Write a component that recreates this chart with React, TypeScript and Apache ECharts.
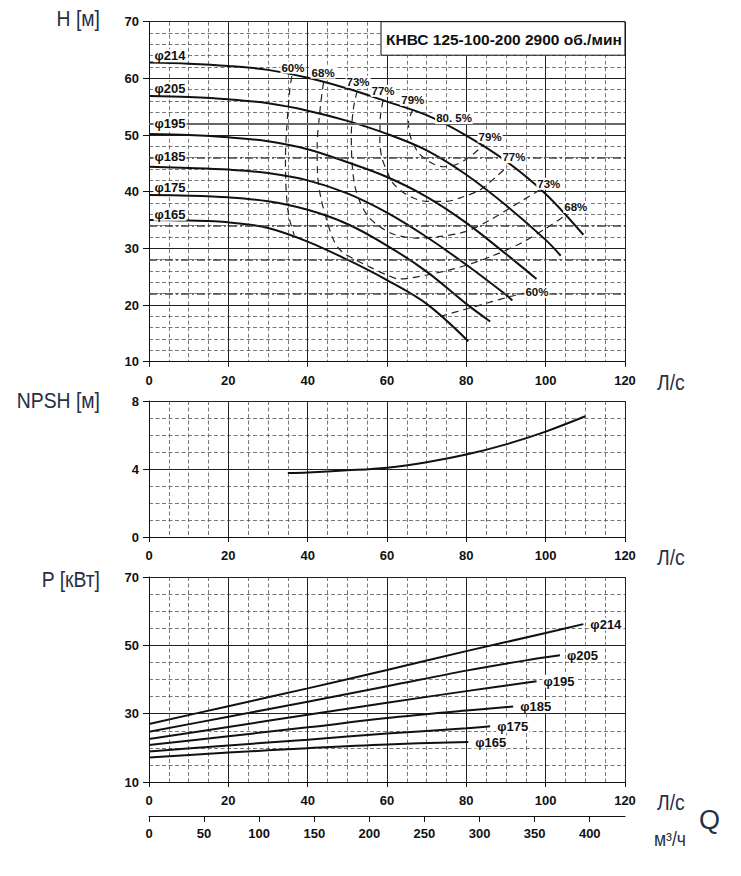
import React, { useEffect, useRef } from "react";
import * as echarts from "echarts";

// Напорные характеристики H(Q), Q в л/с, H в м
const head214 = [[0, 62.8], [10, 62.6], [20, 62.2], [30, 61.5], [40, 60.1], [50, 58.2], [60, 55.9], [70, 53.5], [80, 49.9], [90, 45.4], [100, 39.6], [109.5, 32.4]];
const head205 = [[0, 56.9], [10, 56.7], [20, 56.3], [30, 55.6], [40, 54.3], [50, 52.5], [60, 50.2], [70, 47.3], [80, 43.0], [90, 37.6], [100, 31.5], [103.8, 28.7]];
const head195 = [[0, 50.2], [10, 50.0], [20, 49.6], [30, 48.9], [40, 47.5], [50, 45.2], [60, 42.6], [70, 39.1], [80, 34.5], [90, 29.0], [97.7, 24.6]];
const head185 = [[0, 44.4], [10, 44.2], [20, 43.9], [30, 43.3], [40, 42.0], [50, 39.7], [60, 36.3], [70, 32.0], [80, 27.1], [90, 21.8], [91.6, 20.8]];
const head175 = [[0, 39.4], [10, 39.3], [20, 39.0], [30, 38.3], [40, 36.8], [50, 34.3], [60, 30.5], [70, 25.9], [80, 20.2], [86, 17.1]];
const head165 = [[0, 35.0], [10, 34.9], [20, 34.6], [30, 33.6], [40, 31.2], [50, 28.0], [60, 24.4], [70, 20.2], [80.5, 13.6]];

// линии равного КПД
const eff60a = [[36.0, 60.4], [35.5, 58], [34.8, 52], [34.4, 46], [34.6, 40], [35.3, 35.5], [36.6, 32.4]];
const eff60b = [[73.4, 18.0], [80, 19.3], [86, 20.5], [91, 21.5], [94.5, 22.1]];
const eff68 = [[44.0, 59.3], [43.2, 55], [42.4, 48], [42.5, 43], [43.3, 39], [44.8, 35], [46.5, 31.5], [48.5, 29.5], [52, 28.0], [56, 26.6], [60, 25.3], [63, 24.6], [70, 25.3], [78, 26.6], [86, 28.5], [94, 31], [100, 33.5], [104.5, 35.6]];
const eff73 = [[52.5, 57.8], [51.6, 55], [51.0, 50], [51.2, 45], [51.9, 41], [53.3, 38], [55.3, 35.6], [58.2, 33.8], [62, 32.4], [67.5, 31.8], [73.4, 32.1], [80, 33.0], [86, 35.0], [90, 36.7], [94.5, 38.6], [98.5, 40.3]];
const eff77 = [[59.0, 56.1], [58.3, 53], [58.2, 49], [58.7, 46], [59.9, 43.8], [61.4, 41.6], [64, 39.9], [67, 38.8], [70, 38.3], [75, 38.3], [79.2, 39.1], [83.4, 40.3], [87.6, 42.7], [90.5, 44.5]];
const eff79 = [[66.5, 54.5], [65.4, 52.1], [65.8, 50], [66.6, 48.5], [68, 46.8], [70, 45.6], [72, 44.8], [74.2, 44.4], [77, 44.7], [79.7, 45.6], [82, 46.8], [84.5, 48.3]];

const effLabels = [
  [36.3, 61.9, "60%"], [43.9, 61.0, "68%"], [52.7, 59.4, "73%"], [59.0, 57.8, "77%"],
  [66.5, 56.2, "79%"], [76.9, 53.0, "80. 5%"], [86.0, 49.7, "79%"], [92.0, 46.1, "77%"],
  [100.8, 41.4, "73%"], [107.6, 37.3, "68%"], [97.8, 22.3, "60%"],
];
const headLabels = [
  [5.3, 64.0, "φ214"], [5.3, 58.25, "φ205"], [5.3, 51.96, "φ195"],
  [5.3, 46.19, "φ185"], [5.3, 40.72, "φ175"], [5.3, 36.03, "φ165"],
];
const refLevels = [22, 28, 34, 46];

// NPSH, м
const npsh = [[35, 3.76], [40, 3.8], [50, 3.92], [60, 4.08], [70, 4.4], [80, 4.85], [90, 5.45], [100, 6.2], [110, 7.1]];

// Мощность P, кВт
const power214 = [[0, 27.0], [20, 32.2], [40, 37.4], [60, 42.8], [80, 48.3], [100, 53.6], [109.5, 56.2]];
const power205 = [[0, 24.7], [20, 29.1], [40, 33.5], [60, 38.0], [80, 42.6], [95, 45.6], [103.6, 47.1]];
const power195 = [[0, 22.6], [20, 26.1], [40, 29.7], [60, 33.2], [80, 36.6], [97.7, 39.5]];
const power185 = [[0, 20.8], [20, 23.4], [40, 26.0], [60, 28.7], [80, 30.9], [91.8, 32.1]];
const power175 = [[0, 18.9], [20, 20.7], [40, 22.4], [60, 24.2], [80, 25.7], [86, 26.3]];
const power165 = [[0, 17.2], [20, 18.6], [40, 19.9], [60, 21.0], [80.5, 21.7]];

const m3hTicks = [0, 50, 100, 150, 200, 250, 300, 350, 400];

const SANS = "'Liberation Sans', Arial, sans-serif";

const tickFont = { fontFamily: SANS, fontWeight: "bold" as const, fontSize: 13, color: "#111" };
const minorLine = { show: true, lineStyle: { color: "#555", width: 0.8, type: [4, 2.5] } };
const majorLine = { show: true, lineStyle: { color: "#222", width: 1 } };

function xAxisFor(gridIndex: number) {
  return {
    type: "value", gridIndex, min: 0, max: 120, interval: 20,
    axisLine: { show: true, onZero: false, lineStyle: { color: "#111" } },
    axisTick: { show: true, length: 5, lineStyle: { color: "#111" } },
    axisLabel: { ...tickFont, margin: 12 },
    splitLine: majorLine,
    minorTick: { show: false, splitNumber: 4 },
    minorSplitLine: minorLine,
  };
}

function yAxisFor(gridIndex: number, min: number, max: number, interval: number, split: number) {
  return {
    type: "value", gridIndex, min, max, interval,
    axisLine: { show: true, onZero: false, lineStyle: { color: "#111" } },
    axisTick: { show: true, length: 6, lineStyle: { color: "#111" } },
    axisLabel: { ...tickFont, margin: 10 },
    splitLine: majorLine,
    minorTick: { show: false, splitNumber: split },
    minorSplitLine: minorLine,
  };
}

function curve(data: number[][], axis: number, width = 2) {
  return {
    type: "line", data, xAxisIndex: axis, yAxisIndex: axis, smooth: 0.35,
    symbol: "none", silent: true, z: 4,
    lineStyle: { color: "#111", width },
  };
}

function effCurve(data: number[][]) {
  return {
    type: "line", data, xAxisIndex: 0, yAxisIndex: 0, smooth: 0.3,
    symbol: "none", silent: true, z: 3,
    lineStyle: { color: "#222", width: 1.2, type: [7, 5] },
  };
}

function powerCurve(data: number[][], name: string) {
  return {
    ...curve(data, 2),
    endLabel: {
      show: true, formatter: name, distance: 6,
      fontFamily: SANS, fontWeight: "bold", fontSize: 13, color: "#111",
      backgroundColor: "#fff", padding: [0, 1],
    },
  };
}

function textLabels(rows: (number | string)[][], size: number) {
  return {
    type: "scatter", xAxisIndex: 0, yAxisIndex: 0, silent: true, z: 6,
    symbolSize: 0, itemStyle: { color: "#111", opacity: 1 },
    data: rows.map(([q, h, t]) => ({ value: [q, h], name: t })),
    label: {
      show: true, position: "inside", formatter: "{b}",
      fontFamily: SANS, fontWeight: "bold", fontSize: size, color: "#111",
      textBorderWidth: 0, opacity: 1,
      backgroundColor: "#fff", padding: [0, 1],
    },
  };
}

const nameText = (text: string, x: number, y: number, align: string, size = 22, squeeze = 0.88) => ({
  type: "text", x, y, z: 100, scaleX: squeeze,
  style: { text, fill: "#263041", font: `${size}px ${SANS}`, align, verticalAlign: "middle" },
});

export default function App() {
  const chartRef = useRef<HTMLDivElement>(null);

  useEffect(() => {
    if (!chartRef.current) return;
    const chart = echarts.init(chartRef.current, null, { renderer: "svg" });

    const option: any = {
      animation: false,
      backgroundColor: "#fff",
      grid: [
        { left: 149, top: 21.7, width: 476, height: 340 },
        { left: 149, top: 401, width: 476, height: 136 },
        { left: 149, top: 577, width: 476, height: 205 },
      ],
      xAxis: [
        xAxisFor(0),
        xAxisFor(1),
        xAxisFor(2),
        {
          type: "value", gridIndex: 2, position: "bottom", offset: 34,
          min: 0, max: 432, interval: 50,
          axisLine: { show: true, onZero: false, lineStyle: { color: "#111" } },
          axisTick: { show: true, length: 6, customValues: m3hTicks, lineStyle: { color: "#111" } },
          axisLabel: { ...tickFont, margin: 11, customValues: m3hTicks },
          splitLine: { show: false },
        },
      ],
      yAxis: [
        yAxisFor(0, 10, 70, 10, 5),
        yAxisFor(1, 0, 8, 4, 4),
        yAxisFor(2, 10, 70, 20, 4),
      ],
      series: [
        {
          type: "line", data: [], xAxisIndex: 0, yAxisIndex: 0, z: 2, silent: true,
          markLine: {
            silent: true, symbol: "none", label: { show: false },
            lineStyle: { color: "#444", width: 1.6, type: [8, 3, 2, 3] },
            data: refLevels.map((v) => ({ yAxis: v })),
          },
        },
        {
          type: "line", data: [], xAxisIndex: 0, yAxisIndex: 0, z: 2, silent: true,
          markLine: {
            silent: true, symbol: "none", label: { show: false },
            lineStyle: { color: "#666", width: 2, type: "solid" },
            data: [{ yAxis: 52 }],
          },
        },
        curve(head214, 0), curve(head205, 0), curve(head195, 0),
        curve(head185, 0), curve(head175, 0), curve(head165, 0),
        effCurve(eff60a), effCurve(eff60b), effCurve(eff68),
        effCurve(eff73), effCurve(eff77), effCurve(eff79),
        textLabels(effLabels, 11.5),
        textLabels(headLabels, 13),
        curve(npsh, 1),
        powerCurve(power214, "φ214"), powerCurve(power205, "φ205"), powerCurve(power195, "φ195"),
        powerCurve(power185, "φ185"), powerCurve(power175, "φ175"), powerCurve(power165, "φ165"),
      ],
      graphic: [
        {
          type: "rect", z: 100,
          shape: { x: 381, y: 21.7, width: 244, height: 33.5 },
          style: { fill: "#fff", stroke: "#111", lineWidth: 1 },
        },
        {
          type: "text", x: 386, y: 39, z: 101,
          style: {
            text: "КНВС 125-100-200 2900 об./мин", fill: "#111",
            font: `bold 15.5px ${SANS}`, align: "left", verticalAlign: "middle",
          },
        },
        nameText("H [м]", 100, 18, "right"),
        nameText("NPSH [м]", 100, 400, "right"),
        nameText("P [кВт]", 100, 579, "right"),
        nameText("Л/с", 657, 382, "left"),
        nameText("Л/с", 657, 557, "left"),
        nameText("Л/с", 657, 802, "left"),
        nameText("м³/ч", 654, 839, "left", 20),
        nameText("Q", 699, 820, "left", 27, 1),
      ],
    };

    chart.setOption(option);
    return () => chart.dispose();
  }, []);

  return (
    <div
      ref={chartRef}
      style={{ position: "absolute", left: 0, top: 0, width: 741, height: 876, background: "#fff" }}
    />
  );
}
